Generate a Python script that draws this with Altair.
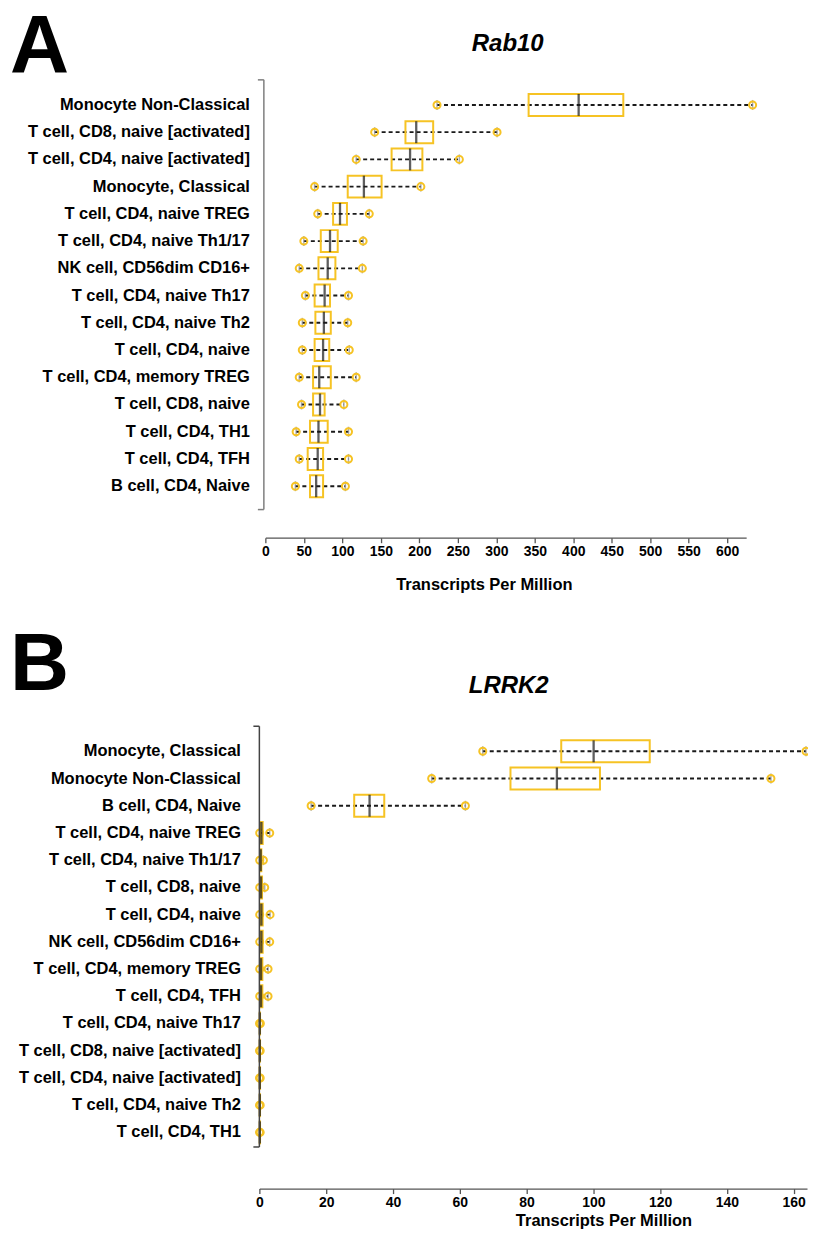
import altair as alt
import pandas as pd

FONT = "Liberation Sans"
GOLD = "#F6C324"

# ---------------- Panel A : Rab10 ----------------
cells_a = [
    "Monocyte Non-Classical",
    "T cell, CD8, naive [activated]",
    "T cell, CD4, naive [activated]",
    "Monocyte, Classical",
    "T cell, CD4, naive TREG",
    "T cell, CD4, naive Th1/17",
    "NK cell, CD56dim CD16+",
    "T cell, CD4, naive Th17",
    "T cell, CD4, naive Th2",
    "T cell, CD4, naive",
    "T cell, CD4, memory TREG",
    "T cell, CD8, naive",
    "T cell, CD4, TH1",
    "T cell, CD4, TFH",
    "B cell, CD4, Naive",
]
a_min = [223, 142, 118, 64, 68, 50, 44, 52, 48, 48, 44, 47, 40, 44, 39]
a_q1 = [342, 182, 164, 107, 88, 72, 69, 64, 65, 64, 62, 62, 58, 55, 58]
a_med = [407, 196, 188, 128, 97, 84, 81, 77, 76, 75, 70, 71, 69, 68, 66]
a_q3 = [465, 218, 204, 151, 106, 94, 91, 84, 85, 83, 85, 77, 81, 75, 75]
a_max = [633, 301, 252, 202, 135, 127, 126, 108, 107, 109, 118, 102, 108, 108, 104]
a_ticks = [0, 50, 100, 150, 200, 250, 300, 350, 400, 450, 500, 550, 600]

# ---------------- Panel B : LRRK2 ----------------
cells_b = [
    "Monocyte, Classical",
    "Monocyte Non-Classical",
    "B cell, CD4, Naive",
    "T cell, CD4, naive TREG",
    "T cell, CD4, naive Th1/17",
    "T cell, CD8, naive",
    "T cell, CD4, naive",
    "NK cell, CD56dim CD16+",
    "T cell, CD4, memory TREG",
    "T cell, CD4, TFH",
    "T cell, CD4, naive Th17",
    "T cell, CD8, naive [activated]",
    "T cell, CD4, naive [activated]",
    "T cell, CD4, naive Th2",
    "T cell, CD4, TH1",
]
b_min = [66.9, 51.6, 15.5, 0.1, 0.1, 0.1, 0.1, 0.1, 0.1, 0.1, 0.05, 0.05, 0.05, 0.05, 0.05]
b_q1 = [90.4, 75.2, 28.4, 0.3, 0.2, 0.2, 0.3, 0.3, 0.3, 0.3, 0.1, 0.1, 0.1, 0.1, 0.1]
b_med = [100.1, 89.1, 33.0, 0.6, 0.4, 0.5, 0.6, 0.6, 0.5, 0.5, 0.15, 0.15, 0.15, 0.15, 0.15]
b_q3 = [116.9, 102.0, 37.4, 1.0, 0.6, 0.8, 1.0, 1.0, 0.9, 0.9, 0.2, 0.2, 0.2, 0.2, 0.2]
b_max = [163.7, 153.2, 61.7, 3.1, 1.2, 1.6, 3.2, 3.1, 2.6, 2.6, 0.3, 0.25, 0.25, 0.25, 0.25]
b_ticks = [0, 20, 40, 60, 80, 100, 120, 140, 160]


def panel(cells, mn, q1, md, q3, mx, *, width, height, domain, xrange, ticks,
          axis_offset, title_x, title_y, label_pad, label_expr,
          bracket_x, bracket_top, bracket_bottom, bracket_color,
          letter, letter_y, gene, gene_x, gene_y, top_mark, bottom_mark=None):
    df = pd.DataFrame({"cell": cells, "mn": mn, "q1": q1, "md": md, "q3": q3, "mx": mx})
    xscale = alt.Scale(domain=domain, range=xrange, nice=False, zero=False)
    xaxis = alt.Axis(
        values=ticks, offset=axis_offset, grid=False,
        title="Transcripts Per Million", titleX=title_x, titleY=title_y,
        titleBaseline="alphabetic", titleAlign="center", titleAnchor="start",
        titleFont=FONT, titleFontSize=16.5, titleFontWeight="bold", titleColor="black",
        labelFont=FONT, labelFontSize=14, labelFontWeight="bold", labelColor="black",
        labelPadding=1.5, labelFlush=False,
        domainColor="#555555", domainWidth=1.3, tickColor="#555555", tickWidth=1.3, tickSize=5,
    )
    yaxis = alt.Axis(
        title=None, domain=False, ticks=False, grid=False, labelLimit=400,
        labelPadding=label_pad, labelFont=FONT, labelFontSize=16.5,
        labelFontWeight="bold", labelColor="black", labelExpr=label_expr,
    )
    Y = alt.Y("cell:N", sort=cells, scale=alt.Scale(paddingInner=0, paddingOuter=0), axis=yaxis)

    def X(f):
        return alt.X(f"{f}:Q", scale=xscale, axis=xaxis)

    base = alt.Chart(df)
    whisk = base.mark_rule(color="#1a1a1a", strokeWidth=1.9, strokeDash=[4, 3]).encode(
        x=X("mn"), x2="mx", y=Y)
    cap_lo = base.mark_tick(color="#8c8c8c", size=10, thickness=1.5).encode(x=X("mn"), y=Y)
    cap_hi = base.mark_tick(color="#8c8c8c", size=10, thickness=1.5).encode(x=X("mx"), y=Y)
    pt_lo = base.mark_point(shape="circle", filled=False, color=GOLD, strokeWidth=2,
                            size=50, opacity=1).encode(x=X("mn"), y=Y)
    pt_hi = base.mark_point(shape="circle", filled=False, color=GOLD, strokeWidth=2,
                            size=50, opacity=1).encode(x=X("mx"), y=Y)
    box = base.mark_bar(fillOpacity=0, stroke=GOLD, strokeWidth=2, size=22).encode(
        x=X("q1"), x2="q3", y=Y)
    med = base.mark_tick(color="#1a1a1a", size=22, thickness=2.3).encode(x=X("md"), y=Y)

    deco = pd.DataFrame({"k": [0]})
    vline = alt.Chart(deco).mark_rule(color=bracket_color, strokeWidth=1.5).encode(
        x=alt.value(bracket_x), y=alt.value(bracket_top), y2=alt.value(bracket_bottom))
    ttop = alt.Chart(deco).mark_rule(color=bracket_color, strokeWidth=1.5).encode(
        x=alt.value(bracket_x - 6), x2=alt.value(bracket_x), y=alt.value(bracket_top))
    tbot = alt.Chart(deco).mark_rule(color=bracket_color, strokeWidth=1.5).encode(
        x=alt.value(bracket_x - 6), x2=alt.value(bracket_x), y=alt.value(bracket_bottom))

    # invisible layout guides (fix the panel's outer bounds)
    guides = [alt.Chart(deco).mark_rule(opacity=0, strokeWidth=0.01).encode(
        x=alt.value(-256), x2=alt.value(0), y=alt.value(top_mark))]
    if bottom_mark is not None:
        guides.append(alt.Chart(deco).mark_rule(opacity=0, strokeWidth=0.01).encode(
            x=alt.value(-256), x2=alt.value(0), y=alt.value(bottom_mark)))

    letter_t = alt.Chart(pd.DataFrame({"t": [letter]})).mark_text(
        font=FONT, fontSize=82, fontWeight="bold", align="left", baseline="alphabetic",
        color="black").encode(x=alt.value(-250), y=alt.value(letter_y), text="t:N")
    gene_t = alt.Chart(pd.DataFrame({"t": [gene]})).mark_text(
        font=FONT, fontSize=24, fontWeight="bold", fontStyle="italic", align="center",
        baseline="alphabetic", color="black").encode(
        x=alt.value(gene_x), y=alt.value(gene_y), text="t:N")

    return alt.layer(whisk, cap_lo, cap_hi, pt_lo, pt_hi, box, med,
                     vline, ttop, tbot, *guides, letter_t, gene_t).properties(
        width=width, height=height)


nk_expr_a = "datum.label == 'NK cell, CD56dim CD16+' ? datum.label + '\u00a0\u00a0' : datum.label"
nk_expr_b = ("datum.label == 'NK cell, CD56dim CD16+' ? datum.label + '\u00a0\u00a0' : "
             "(datum.label == 'B cell, CD4, Naive' ? datum.label + '\u00a0' : datum.label)")

chart_a = panel(cells_a, a_min, a_q1, a_med, a_q3, a_max,
                width=488, height=409.5, domain=[0, 624.6], xrange=[6, 488], ticks=a_ticks,
                axis_offset=38, title_x=225, title_y=52, label_pad=10, label_expr=nk_expr_a,
                bracket_x=4.5, bracket_top=-11.5, bracket_bottom=419.3, bracket_color="#7f7f7f",
                letter="A", letter_y=-19.2, gene="Rab10", gene_x=249, gene_y=-40.2,
                top_mark=-110, bottom_mark=510)

chart_b = panel(cells_b, b_min, b_q1, b_med, b_q3, b_max,
                width=549, height=409.3, domain=[0, 164], xrange=[0, 549], ticks=b_ticks,
                axis_offset=42.7, title_x=345, title_y=37, label_pad=19, label_expr=nk_expr_b,
                bracket_x=0, bracket_top=-11.5, bracket_bottom=410.3, bracket_color="#444444",
                letter="B", letter_y=-48, gene="LRRK2", gene_x=250, gene_y=-45,
                top_mark=-135)

chart = alt.vconcat(chart_a, chart_b, spacing=3).properties(
    padding={"left": -4, "top": -28, "right": -6, "bottom": 0}
).configure_view(stroke=None)

chart.save("out.html", embed_options={"renderer": "svg", "actions": False})
